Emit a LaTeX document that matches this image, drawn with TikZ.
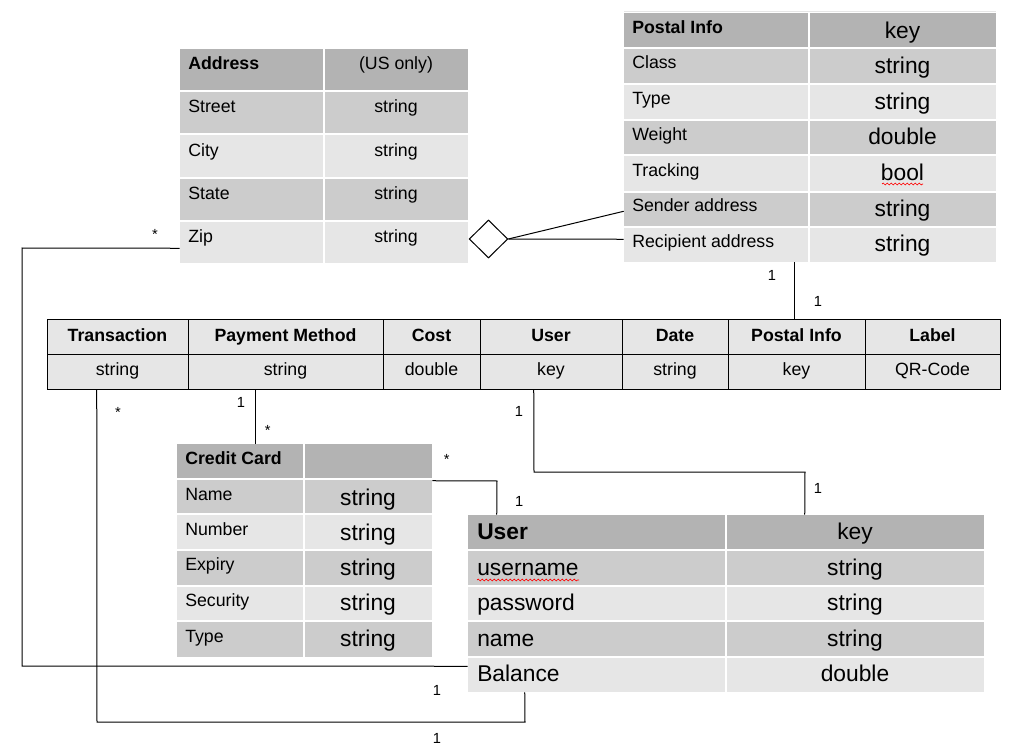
\documentclass[tikz,border=0pt]{standalone}
\usepackage{fontspec}
\setmainfont{Liberation Sans}
\usetikzlibrary{fit,calc,shapes.geometric,decorations.pathmorphing}
\definecolor{cdark}{HTML}{B3B3B3}
\definecolor{cmid}{HTML}{CCCCCC}
\definecolor{clight}{HTML}{E6E6E6}
\begin{document}
\begin{tikzpicture}[x=0.75pt,y=-0.75pt,
  lbl/.style={anchor=base west, inner sep=0, font=\fontsize{13.3}{16}\selectfont},
  lblb/.style={anchor=base west, inner sep=0, font=\fontsize{13.3}{16}\selectfont\bfseries},
  val/.style={anchor=base, inner sep=0, font=\fontsize{13.3}{16}\selectfont},
  valb/.style={anchor=base, inner sep=0, font=\fontsize{13.3}{16}\selectfont\bfseries},
  big/.style={anchor=base west, inner sep=0, font=\fontsize{17.1}{20}\selectfont},
  bigb/.style={anchor=base west, inner sep=0, font=\fontsize{17.1}{20}\selectfont\bfseries},
  bigval/.style={anchor=base, inner sep=0, font=\fontsize{17.1}{20}\selectfont},
  mult/.style={anchor=base, inner sep=0, font=\fontsize{11}{13}\selectfont},
  sep/.style={draw=white, line width=0.9pt},
  conn/.style={draw=black, line width=0.75pt},
  frame/.style={inner sep=0, draw=none},
  squiggle/.style={draw=red, line width=0.5pt, decorate, decoration={snake, amplitude=0.7pt, segment length=3pt}}
]
\useasboundingbox (0,0) rectangle (1011,756);
\fill[white] (0,0) rectangle (1011,756);

% ---------- Address table ----------
\fill[cdark]  (180,49)  rectangle (468,91);
\fill[cmid]   (180,91)  rectangle (468,134);
\fill[clight] (180,134) rectangle (468,178);
\fill[cmid]   (180,178) rectangle (468,221);
\fill[clight] (180,221) rectangle (468,263);
\draw[sep] (180,91)--(468,91) (180,134)--(468,134) (180,178)--(468,178) (180,221)--(468,221) (324,49)--(324,263);
\node[frame, fit={(180,49)(468,263)}] (addr) {};
\node[lblb] (aH)  at (188,69.3) {Address};
\node[val]  (aHv) at (396,69.3) {(US only)};
\node[lbl]  (a1)  at (188,112.7) {Street};
\node[val]  (a1v) at (396,112.7) {string};
\node[lbl]  (a2)  at (188,156.5) {City};
\node[val]  (a2v) at (396,156.5) {string};
\node[lbl]  (a3)  at (188,199.5) {State};
\node[val]  (a3v) at (396,199.5) {string};
\node[lbl]  (a4)  at (188,242.7) {Zip};
\node[val]  (a4v) at (396,242.7) {string};

% ---------- Postal Info table ----------
\draw[draw=clight, line width=0.75pt] (624,12)--(996,12);
\fill[cdark]  (624,13)  rectangle (996,48);
\fill[cmid]   (624,48)  rectangle (996,84);
\fill[clight] (624,84)  rectangle (996,120);
\fill[cmid]   (624,120) rectangle (996,155);
\fill[clight] (624,155) rectangle (996,192);
\fill[cmid]   (624,192) rectangle (996,227);
\fill[clight] (624,227) rectangle (996,262);
\draw[sep] (624,48)--(996,48) (624,84)--(996,84) (624,120)--(996,120) (624,155)--(996,155) (624,192)--(996,192) (624,227)--(996,227) (809,13)--(809,262);
\node[frame, fit={(624,13)(996,262)}] (pi) {};
\node[lblb]   (pH)  at (632,33.5) {Postal Info};
\node[bigval] (pHv) at (902.5,38.3) {key};
\node[lbl]    (p1)  at (632,69) {Class};
\node[bigval] (p1v) at (902.5,73.3) {string};
\node[lbl]    (p2)  at (632,105) {Type};
\node[bigval] (p2v) at (902.5,109.3) {string};
\node[lbl]    (p3)  at (632,141) {Weight};
\node[bigval] (p3v) at (902.5,144.5) {double};
\node[lbl]    (p4)  at (632,176.5) {Tracking};
\node[bigval] (p4v) at (902.5,180.5) {bool};
\node[lbl]    (p5)  at (632,212) {Sender address};
\node[bigval] (p5v) at (902.5,216.3) {string};
\node[lbl]    (p6)  at (632,247.5) {Recipient address};
\node[bigval] (p6v) at (902.5,251.3) {string};
\draw[squiggle] (882,184) -- (923,184);

% ---------- Transaction table ----------
\fill[clight] (47,319) rectangle (1000,389);
\draw[conn] (47,319) rectangle (1000,389);
\draw[conn] (47,354)--(1000,354);
\foreach \cx in {188,383,480,622,728,865} {\draw[conn] (\cx,319)--(\cx,389);}
\node[frame, fit={(47,319)(1000,389)}] (tr) {};
\node[valb] (t1) at (117.5,341.5) {Transaction};
\node[valb] (t2) at (285.5,341.5) {Payment Method};
\node[valb] (t3) at (431.5,341.5) {Cost};
\node[valb] (t4) at (551,341.5) {User};
\node[valb] (t5) at (675,341.5) {Date};
\node[valb] (t6) at (796.5,341.5) {Postal Info};
\node[valb] (t7) at (932.5,341.5) {Label};
\node[val] (t1v) at (117.5,375.5) {string};
\node[val] (t2v) at (285.5,375.5) {string};
\node[val] (t3v) at (431.5,375.5) {double};
\node[val] (t4v) at (551,375.5) {key};
\node[val] (t5v) at (675,375.5) {string};
\node[val] (t6v) at (796.5,375.5) {key};
\node[val] (t7v) at (932.5,375.5) {QR-Code};

% ---------- Credit Card table ----------
\fill[cdark]  (177,444) rectangle (432,479);
\fill[cmid]   (177,479) rectangle (432,514);
\fill[clight] (177,514) rectangle (432,550);
\fill[cmid]   (177,550) rectangle (432,586);
\fill[clight] (177,586) rectangle (432,621);
\fill[cmid]   (177,621) rectangle (432,657);
\draw[sep] (177,479)--(432,479) (177,514)--(432,514) (177,550)--(432,550) (177,586)--(432,586) (177,621)--(432,621) (304,444)--(304,657);
\node[frame, fit={(177,444)(432,657)}] (cc) {};
\node[lblb]   (cH)  at (185,464) {Credit Card};
\node[lbl]    (c1)  at (185,500) {Name};
\node[bigval] (c1v) at (368,505) {string};
\node[lbl]    (c2)  at (185,535) {Number};
\node[bigval] (c2v) at (368,540.3) {string};
\node[lbl]    (c3)  at (185,570.7) {Expiry};
\node[bigval] (c3v) at (368,575.3) {string};
\node[lbl]    (c4)  at (185,606.5) {Security};
\node[bigval] (c4v) at (368,610.7) {string};
\node[lbl]    (c5)  at (185,642.3) {Type};
\node[bigval] (c5v) at (368,646.7) {string};

% ---------- User table ----------
\fill[cdark]  (468,515) rectangle (984,550);
\fill[cmid]   (468,550) rectangle (984,586);
\fill[clight] (468,586) rectangle (984,621);
\fill[cmid]   (468,621) rectangle (984,657);
\fill[clight] (468,657) rectangle (984,692);
\draw[sep] (468,550)--(984,550) (468,586)--(984,586) (468,621)--(984,621) (468,657)--(984,657) (726,515)--(726,692);
\node[frame, fit={(468,515)(984,692)}] (user) {};
\node[bigb]   (uH)  at (477,539.5) {User};
\node[bigval] (uHv) at (855,539.5) {key};
\node[big]    (u1)  at (477,575.3) {username};
\node[bigval] (u1v) at (855,575.3) {string};
\node[big]    (u2)  at (477,610.7) {password};
\node[bigval] (u2v) at (855,610.7) {string};
\node[big]    (u3)  at (477,646.7) {name};
\node[bigval] (u3v) at (855,646.7) {string};
\node[big]    (u4)  at (477,681.7) {Balance};
\node[bigval] (u4v) at (855,681.7) {double};
\draw[squiggle] (477,580) -- (579,580);

% ---------- aggregation diamond ----------
\node[diamond, draw=black, fill=white, line width=0.75pt, aspect=1, inner sep=0,
      minimum width=29pt, minimum height=28.5pt] (agg) at (488.5,239) {};
\draw[conn] (agg.east) -- ($(pi.south west)+(0,-51)$);
\draw[conn] (agg.east) -- ($(pi.south west)+(0,-23)$);

% ---------- connectors ----------
% Address -- User
\draw[conn] ($(addr.south west)+(0,-15)$) -- (22,248) -- (22,666) -- ($(user.south west)+(0,-26)$);
% Transaction -- User (bottom loop)
\draw[conn] ($(tr.south west)+(50,0)$) -- (97,722) -- (525,722) -- ($(user.south west)+(57,0)$);
% Payment Method -- Credit Card
\draw[conn] ($(tr.south west)+(209,0)$) -- ($(cc.north west)+(79,0)$);
% Transaction User -- User table
\draw[conn] ($(tr.south west)+(487,0)$) -- (534,472) -- (805,472) -- ($(user.north west)+(337,0)$);
% Credit Card -- User
\draw[conn] ($(cc.north east)+(0,37)$) -- (497,481) -- ($(user.north west)+(29,0)$);
% Postal Info -- Transaction
\draw[conn] ($(pi.south west)+(171,0)$) -- ($(tr.north west)+(748,0)$);

% ---------- multiplicities ----------
\node[mult] (m1)  at (155,239.2) {*};
\node[mult] (m2)  at (118,417.5) {*};
\node[mult] (m3)  at (267.7,435.2) {*};
\node[mult] (m4)  at (446.7,464.5) {*};
\node[mult] (m5)  at (772,281) {1};
\node[mult] (m6)  at (818,306) {1};
\node[mult] (m7)  at (241,407.3) {1};
\node[mult] (m8)  at (519,416) {1};
\node[mult] (m9)  at (818,493) {1};
\node[mult] (m10) at (519.3,506) {1};
\node[mult] (m11) at (437,695) {1};
\node[mult] (m12) at (437,743.5) {1};
\end{tikzpicture}
\end{document}
